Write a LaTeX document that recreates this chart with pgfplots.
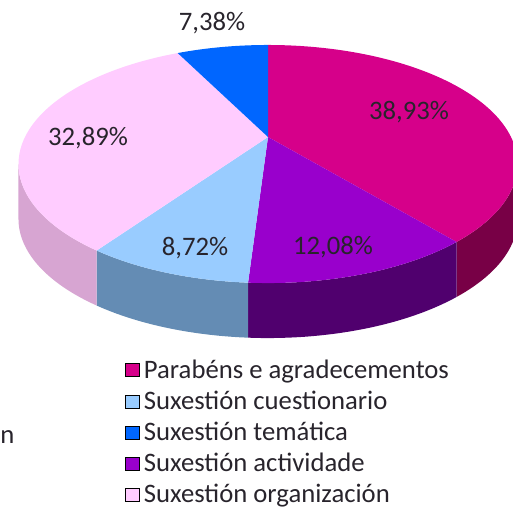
\documentclass[border=0pt]{standalone}
\usepackage{pgfplots}
\pgfplotsset{compat=1.18}
\usepackage{fontspec}
\setmainfont{Carlito}
\definecolor{magC}{RGB}{214,0,138}
\definecolor{magS}{RGB}{120,0,70}
\definecolor{purC}{RGB}{153,0,204}
\definecolor{purS}{RGB}{80,0,110}
\definecolor{lbC}{RGB}{153,204,255}
\definecolor{lbS}{RGB}{100,140,180}
\definecolor{bluC}{RGB}{0,102,255}
\definecolor{pinC}{RGB}{255,204,255}
\definecolor{pinS}{RGB}{215,165,210}
\definecolor{txt}{RGB}{40,36,44}
% data (percent)
\def\vPar{38.93}
\def\vAct{12.08}
\def\vCue{8.72}
\def\vOrg{32.89}
\def\vTem{7.38}
\pgfmathsetmacro\aA{90}
\pgfmathsetmacro\aB{\aA-3.6*\vPar}
\pgfmathsetmacro\aC{\aB-3.6*\vAct}
\pgfmathsetmacro\aD{\aC-3.6*\vCue}
\pgfmathsetmacro\aE{\aD-3.6*\vOrg}
\pgfmathsetmacro\aF{\aE-3.6*\vTem}
\begin{document}
\begin{tikzpicture}
\useasboundingbox (0,0) rectangle (10cm,10cm);
\begin{axis}[
  at={(0,0)}, anchor=south west,
  scale only axis, width=10cm, height=10cm,
  xmin=0, xmax=513, ymin=0, ymax=513,
  hide axis, clip=true,
  declare function={px(\t)=268+243*cos(\t)/(1+0.227*sin(\t));
                    py(\t)=376+112.9*sin(\t)/(1+0.227*sin(\t));
                    sa(\s,\a,\b)=\a+(\b-\a)*(min(\s,1)-max(\s-2,0));
                    sd(\s)=55*min(max(\s-1,0),1);},
  legend style={at={(0.2437,0.2995)}, anchor=north west, draw=none, fill=none,
    font=\fontsize{14.8}{16}\selectfont, text=txt, row sep=5.5pt, inner sep=0pt,
    nodes={inner xsep=2.5pt, inner ysep=0pt}},
  legend cell align=left,
  legend image code/.code={\fill[#1] (0pt,-3.6pt) rectangle (7.4pt,3.6pt);},
]
% sides
\addplot[fill=magS, draw=none, domain=0:3, samples=151, variable=\s, forget plot] ({px(sa(\s,\aB,-13.1))},{py(sa(\s,\aB,-13.1))-sd(\s)}) -- cycle;
\addplot[fill=purS, draw=none, domain=0:3, samples=151, variable=\s, forget plot] ({px(sa(\s,\aC,\aB))},{py(sa(\s,\aC,\aB))-sd(\s)}) -- cycle;
\addplot[fill=lbS, draw=none, domain=0:3, samples=151, variable=\s, forget plot] ({px(sa(\s,\aD,\aC))},{py(sa(\s,\aD,\aC))-sd(\s)}) -- cycle;
\addplot[fill=pinS, draw=none, domain=0:3, samples=151, variable=\s, forget plot] ({px(sa(\s,-166.9,\aD))},{py(sa(\s,-166.9,\aD))-sd(\s)}) -- cycle;
% top faces
\addplot[fill=magC, draw=none, domain=\aB:\aA, samples=90, variable=\t, forget plot] ({px(\t)},{py(\t)}) -- (axis cs:268,376) -- cycle;
\addplot[fill=purC, draw=none, domain=\aC:\aB, samples=60, variable=\t, forget plot] ({px(\t)},{py(\t)}) -- (axis cs:268,376) -- cycle;
\addplot[fill=lbC, draw=none, domain=\aD:\aC, samples=60, variable=\t, forget plot] ({px(\t)},{py(\t)}) -- (axis cs:268,376) -- cycle;
\addplot[fill=pinC, draw=none, domain=\aE:\aD, samples=90, variable=\t, forget plot] ({px(\t)},{py(\t)}) -- (axis cs:268,376) -- cycle;
\addplot[fill=bluC, draw=none, domain=\aF:\aE, samples=60, variable=\t, forget plot] ({px(\t)},{py(\t)}) -- (axis cs:268,376) -- cycle;
% labels
\begin{scope}[every node/.style={font=\fontsize{14.8}{16}\selectfont, text=txt}]
\node at (axis cs:409,513-112) {38,93\%};
\node at (axis cs:212,513-23) {7,38\%};
\node at (axis cs:88,513-138) {32,89\%};
\node at (axis cs:195,513-248) {8,72\%};
\node at (axis cs:333,513-247) {12,08\%};
\node[anchor=west, inner xsep=0pt] at (axis cs:0,513-437) {n};
\end{scope}
% legend
\addlegendimage{fill=magC}
\addlegendentry{Parabéns e agradecementos}
\addlegendimage{fill=lbC}
\addlegendentry{Suxestión cuestionario}
\addlegendimage{fill=bluC}
\addlegendentry{Suxestión temática}
\addlegendimage{fill=purC}
\addlegendentry{Suxestión actividade}
\addlegendimage{fill=pinC}
\addlegendentry{Suxestión organización}
\end{axis}
\end{tikzpicture}
\end{document}
